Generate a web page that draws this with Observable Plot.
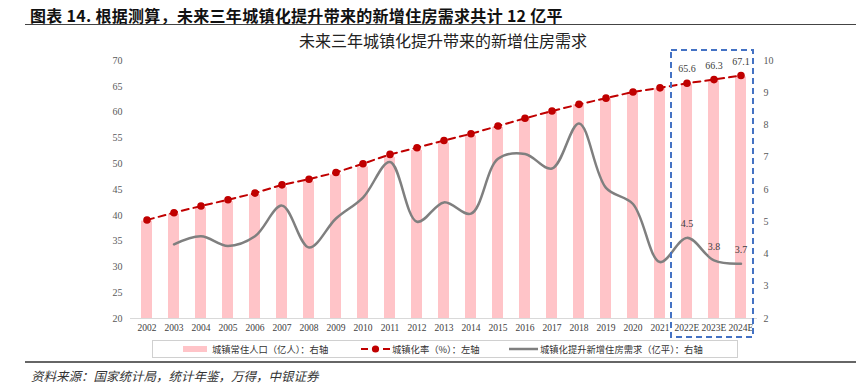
<!DOCTYPE html>
<html>
<head>
<meta charset="utf-8">
<script src="https://cdn.jsdelivr.net/npm/d3@7"></script>
<script src="https://cdn.jsdelivr.net/npm/@observablehq/plot@0.6"></script>
<style>
  html, body { margin: 0; padding: 0; background: #fff; }
  #wrap { position: relative; width: 856px; height: 392px; overflow: hidden; font-family: "Noto Sans CJK SC", sans-serif; }
  #title { position: absolute; left: 30px; top: 3px; font-size: 16px; font-weight: 700; color: #111; white-space: nowrap; letter-spacing: 0.3px; }
  #rule1 { position: absolute; left: 25px; right: 0; top: 24px; height: 0; border-top: 1.5px solid #444; }
  #subtitle { position: absolute; left: 0; width: 886px; top: 28px; text-align: center; font-size: 16px; color: #222; white-space: nowrap; }
  #chart { position: absolute; left: 0; top: 0; }
  #legend { position: absolute; left: 152px; top: 340px; width: 586px; height: 18px; border: 1px solid #d0d0d0; box-sizing: border-box; }
  .lg { position: absolute; top: 2px; font-size: 9.3px; color: #333; white-space: nowrap; line-height: 12px; }
  .sw { position: absolute; line-height: 0; }
  .sw svg { display: block; }
  #rule2 { position: absolute; left: 25px; right: 0; top: 361px; height: 0; border-top: 2px solid #666; }
  #source { position: absolute; left: 31px; top: 366px; font-size: 12.5px; font-style: italic; color: #333; white-space: nowrap; }
</style>
</head>
<body>
<div id="wrap">
  <div id="title">图表 14. 根据测算，未来三年城镇化提升带来的新增住房需求共计 12 亿平</div>
  <div id="rule1"></div>
  <div id="subtitle">未来三年城镇化提升带来的新增住房需求</div>
  <div id="chart"></div>
  <div id="legend"></div>
  <div id="rule2"></div>
  <div id="source">资料来源：国家统计局，统计年鉴，万得，中银证券</div>
</div>
<script>
// ---- data ----
const years = ["2002","2003","2004","2005","2006","2007","2008","2009","2010","2011","2012","2013","2014","2015","2016","2017","2018","2019","2020","2021","2022E","2023E","2024E"];
// 城镇常住人口（亿人）：右轴
const urbanPop = [5.02,5.24,5.43,5.62,5.83,6.06,6.24,6.45,6.70,6.99,7.21,7.44,7.66,7.92,8.18,8.42,8.63,8.82,9.01,9.13,9.25,9.37,9.49];
// 城镇化率（%）：左轴
const urbanRate = [39.1,40.5,41.8,43.0,44.3,45.9,47.0,48.3,50.0,51.8,53.1,54.5,55.8,57.3,58.8,60.2,61.5,62.7,63.9,64.7,65.6,66.3,67.1];
// 城镇化提升新增住房需求（亿平）：右轴
const housingDemand = [null,4.30,4.55,4.25,4.55,5.50,4.20,5.10,5.75,6.85,5.00,5.60,5.25,6.95,7.10,6.65,8.05,6.05,5.55,3.75,4.50,3.80,3.70];
const forecastYears = ["2022E","2023E","2024E"];
const leftTicks = [20,25,30,35,40,45,50,55,60,65,70];
const rightTicks = [2,3,4,5,6,7,8,9,10];
const legendLabels = ["城镇常住人口（亿人）：右轴","城镇化率（%）：左轴","城镇化提升新增住房需求（亿平）：右轴"];

// right axis (2–10) mapped onto left axis (20–70)
const toLeft = v => 20 + (v - 2) * 50 / 8;
const fromLeft = t => 2 + (t - 20) * 8 / 50;

const rows = years.map((y, i) => ({year: y, pop: urbanPop[i], rate: urbanRate[i], demand: housingDemand[i]}));
const demandRows = rows.filter(d => d.demand != null);
const fcRows = rows.filter(d => forecastYears.includes(d.year));

const serif = "'Liberation Serif', 'DejaVu Serif', serif";

const plot = Plot.plot({
  width: 856,
  height: 340,
  marginLeft: 130,
  marginRight: 99,
  marginTop: 60,
  marginBottom: 22,
  style: {fontFamily: serif, fontSize: "10px", color: "#595959", background: "transparent"},
  x: {domain: years, type: "band", paddingInner: 0.6, paddingOuter: 0.3, label: null},
  y: {domain: [20, 70], label: null},
  marks: [
    Plot.barY(rows, {x: "year", y1: 20, y2: d => toLeft(d.pop), fill: "#ffc4c8"}),
    Plot.ruleY([20], {stroke: "#d9d9d9", strokeWidth: 1}),
    Plot.line(rows, {x: "year", y: "rate", stroke: "#c00000", strokeWidth: 2, strokeDasharray: "7,5"}),
    Plot.dot(rows, {x: "year", y: "rate", r: 3.8, fill: "#c00000", stroke: "none"}),
    Plot.line(demandRows, {x: "year", y: d => toLeft(d.demand), stroke: "#7f7f7f", strokeWidth: 2.5, curve: "catmull-rom"}),
    Plot.text(fcRows, {x: "year", y: "rate", text: d => d.rate.toFixed(1), dy: -14, fill: "#404040", fontSize: 10, fontFamily: serif}),
    Plot.text(fcRows, {x: "year", y: d => toLeft(d.demand), text: d => d.demand.toFixed(1), dy: -14, fill: "#404040", fontSize: 10, fontFamily: serif}),
    Plot.axisX({tickSize: 0, tickPadding: 6, fill: "#404040", fontFamily: serif, fontSize: 9.5, label: null}),
    Plot.axisY({anchor: "left", ticks: leftTicks, tickSize: 0, tickPadding: 8, fill: "#595959", fontFamily: serif, fontSize: 10, label: null}),
    Plot.axisY({anchor: "right", ticks: rightTicks.map(toLeft), tickFormat: t => String(Math.round(fromLeft(t))), tickSize: 0, tickPadding: 6, fill: "#595959", fontFamily: serif, fontSize: 10, label: null})
  ]
});
document.getElementById("chart").appendChild(plot);

// dashed highlight box around forecast years, positioned from the scales
const sx = plot.scale("x"), sy = plot.scale("y");
const gap = sx.step - sx.bandwidth;
const bx0 = sx.apply(forecastYears[0]) - gap / 2 - 2;
const bx1 = sx.apply(forecastYears[forecastYears.length - 1]) + sx.bandwidth + gap / 2 - 1;
const by0 = sy.apply(70) - 10;
const by1 = sy.apply(20) + 19;
d3.select(plot).append("rect")
  .attr("x", bx0).attr("y", by0).attr("width", bx1 - bx0).attr("height", by1 - by0)
  .attr("fill", "none").attr("stroke", "#4472c4").attr("stroke-width", 2).attr("stroke-dasharray", "6,4");

// legend
const lg = document.getElementById("legend");
const items = [
  {swx: 30, sy: 5, txt: 59, svg: '<svg width="24" height="6"><rect x="0" y="0" width="24" height="6" fill="#ffc4c8"/></svg>'},
  {swx: 208, sy: 3, txt: 239, svg: '<svg width="29" height="10"><line x1="0" y1="5" x2="29" y2="5" stroke="#c00000" stroke-width="2" stroke-dasharray="7,4"/><circle cx="14.5" cy="5" r="3.6" fill="#c00000"/></svg>'},
  {swx: 356, sy: 6, txt: 387, svg: '<svg width="29" height="4"><line x1="0" y1="2" x2="29" y2="2" stroke="#7f7f7f" stroke-width="2.5"/></svg>'}
];
items.forEach((it, i) => {
  const s = document.createElement("div");
  s.className = "sw"; s.style.left = it.swx + "px"; s.style.top = it.sy + "px";
  s.innerHTML = it.svg; lg.appendChild(s);
  const t = document.createElement("div");
  t.className = "lg"; t.style.left = it.txt + "px"; t.textContent = legendLabels[i];
  lg.appendChild(t);
});
</script>
</body>
</html>
